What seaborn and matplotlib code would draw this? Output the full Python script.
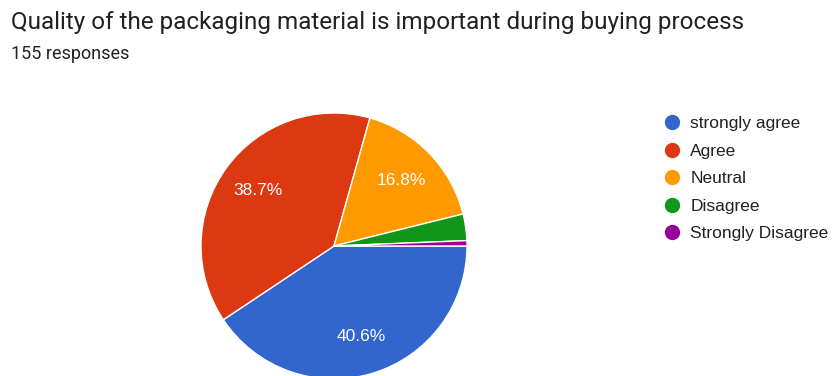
import matplotlib
matplotlib.use("Agg")
import matplotlib.pyplot as plt
from matplotlib.lines import Line2D
import seaborn as sns

# Survey answers and response counts
categories = ["strongly agree", "Agree", "Neutral", "Disagree", "Strongly Disagree"]
counts = [63, 60, 26, 5, 1]
colors = ["#3366CC", "#DC3912", "#FF9900", "#109618", "#990099"]
title = "Quality of the packaging material is important during buying process"
subtitle = "155 responses"

sns.set_theme(style="white")
plt.rcParams["font.family"] = ["Roboto", "DejaVu Sans"]

fig = plt.figure(figsize=(8.34, 3.76), dpi=100)
fig.patch.set_facecolor("white")

W, H = 834, 376
cx, cy, r = 334, 246, 133
ax = fig.add_axes([(cx - r) / W, (H - cy - r) / H, 2 * r / W, 2 * r / H])


def pct_label(p):
    return f"{p:.1f}%" if p >= 5 else ""


wedges, texts, autotexts = ax.pie(
    counts,
    colors=colors,
    startangle=0,
    counterclock=False,
    autopct=pct_label,
    pctdistance=0.71,
    wedgeprops=dict(edgecolor="white", linewidth=1.0),
    textprops=dict(color="white", fontsize=12.5, family=["Liberation Sans", "DejaVu Sans"]),
)
ax.set_xlim(-1.0, 1.0)
ax.set_ylim(-1.0, 1.0)
ax.set_aspect("equal")
ax.axis("off")

fig.text(11 / W, 1 - 23 / H, title, fontsize=17.5, color="#202124", va="center", ha="left")
fig.text(11 / W, 1 - 54 / H, subtitle, fontsize=13, color="#202124", va="center", ha="left")

handles = [
    Line2D([0], [0], marker="o", linestyle="none", markersize=10,
           markerfacecolor=c, markeredgecolor=c)
    for c in colors
]
fig.legend(
    handles, categories,
    loc="upper left",
    bbox_to_anchor=(664.2 / W, 1 - 116 / H),
    frameon=False,
    prop=dict(family=["Liberation Sans", "DejaVu Sans"], size=12.5),
    handlelength=0.9,
    handletextpad=0.6,
    labelspacing=0.71,
    borderaxespad=0,
    borderpad=0,
    labelcolor="#202124",
)

fig.savefig("out.png", dpi=100, facecolor="white")
